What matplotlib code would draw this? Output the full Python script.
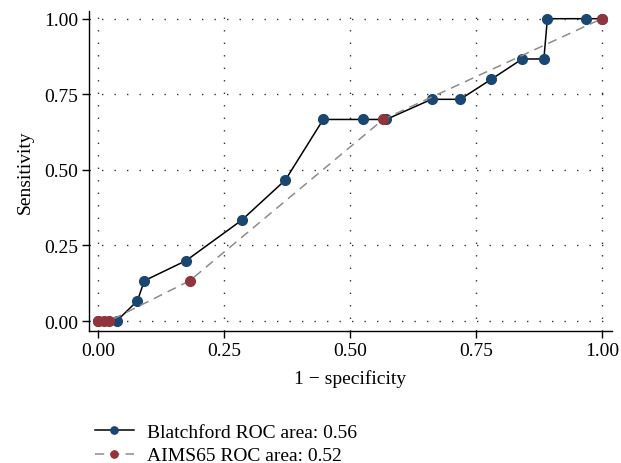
import matplotlib
matplotlib.use("Agg")
import matplotlib.pyplot as plt

# Data
blatchford_x = [0.0, 0.037, 0.078, 0.092, 0.175, 0.285, 0.372, 0.447, 0.526, 0.572,
                0.662, 0.719, 0.781, 0.842, 0.885, 0.892, 0.969, 1.0]
blatchford_y = [0.0, 0.0, 0.0667, 0.1333, 0.2, 0.3333, 0.4667, 0.6667, 0.6667, 0.6667,
                0.7333, 0.7333, 0.8, 0.8667, 0.8667, 1.0, 1.0, 1.0]
aims_x = [0.0, 0.011, 0.022, 0.182, 0.566, 1.0]
aims_y = [0.0, 0.0, 0.0, 0.1333, 0.6667, 1.0]
ticks = [0.0, 0.25, 0.5, 0.75, 1.0]
tick_labels = ["0.00", "0.25", "0.50", "0.75", "1.00"]
labels = ["Blatchford ROC area: 0.56", "AIMS65 ROC area: 0.52"]

plt.rcParams['font.family'] = ['Liberation Serif', 'DejaVu Serif']

BLUE = "#1a476f"
RED = "#90353b"
FS = 14

fig = plt.figure(figsize=(6.21, 4.64), dpi=100)
ax = fig.add_axes([0.1433, 0.2845, 0.842, 0.69])

l1, = ax.plot(blatchford_x, blatchford_y, color="black", lw=1.1, marker="o",
              markersize=7, markerfacecolor=BLUE, markeredgecolor=BLUE, zorder=3)
l2, = ax.plot(aims_x, aims_y, color="#8c8c8c", lw=1.1, ls=(0, (6, 4)), marker="o",
              markersize=7, markerfacecolor=RED, markeredgecolor=RED, zorder=4)

ax.set_xlim(-0.018, 1.02)
ax.set_ylim(-0.033, 1.026)
ax.set_xticks(ticks)
ax.set_xticklabels(tick_labels)
ax.set_yticks(ticks)
ax.set_yticklabels(tick_labels)
ax.tick_params(direction="out", length=5, width=1, labelsize=FS, pad=3)
ax.grid(True, color="#333333", ls=(0, (1, 8)), lw=1.0)
ax.set_axisbelow(True)
for s in ["top", "right"]:
    ax.spines[s].set_visible(False)
for s in ["left", "bottom"]:
    ax.spines[s].set_linewidth(1.0)
ax.set_xlabel("1 \u2212 specificity", fontsize=FS, labelpad=7)
ax.set_ylabel("Sensitivity", fontsize=FS, labelpad=7)

fig.legend([l1, l2], labels, loc="upper left", bbox_to_anchor=(0.14, 0.103),
           frameon=False, fontsize=FS, markerscale=0.75, handlelength=2.0,
           handletextpad=0.7, labelspacing=0.32, borderaxespad=0)

fig.savefig("out.png", dpi=100)
